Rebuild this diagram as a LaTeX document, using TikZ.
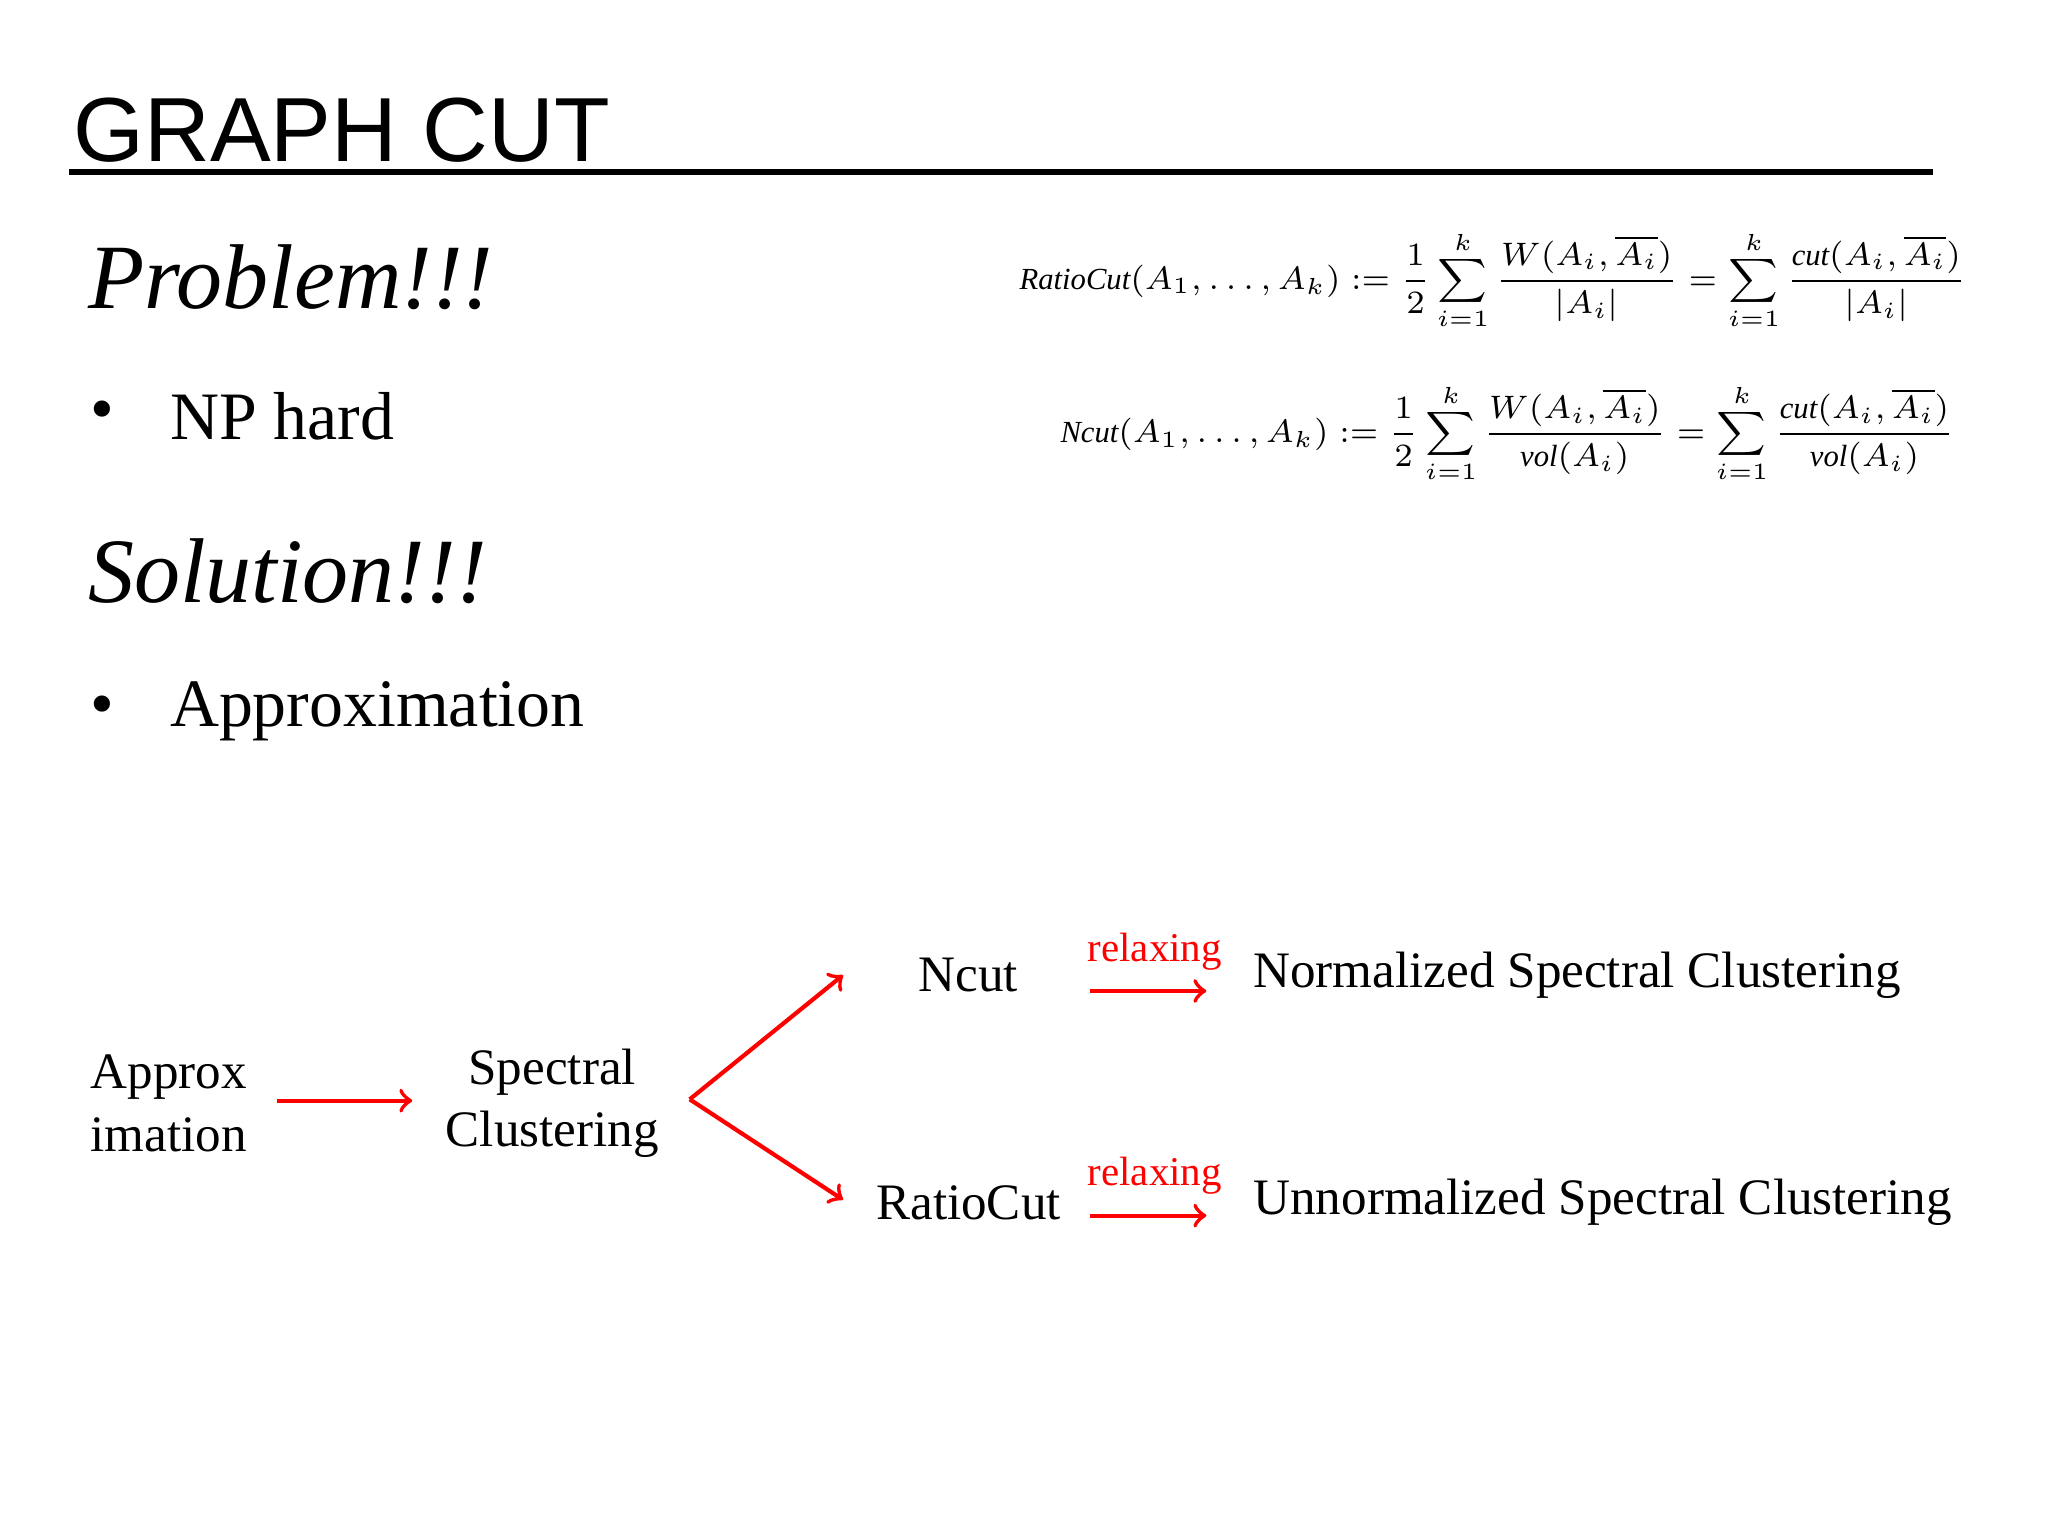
\documentclass[tikz,border=0pt]{standalone}
\usepackage{amsmath}
\usepackage{fontspec}
\setmainfont{Liberation Serif}
\newfontfamily\titlefont{Liberation Sans}
\usetikzlibrary{positioning}
\tikzset{
  txt/.style={inner sep=0pt, font=\fontsize{11}{13.5}\selectfont},
  head/.style={inner sep=0pt, anchor=west, font=\fontsize{19.8}{23}\selectfont\itshape},
  item/.style={inner sep=0pt, anchor=west, font=\fontsize{14.6}{17}\selectfont},
  redarrow/.style={->, red, line width=0.9pt},
  relax/.style={inner sep=0pt, red, font=\fontsize{8.8}{10}\selectfont},
  formula/.style={inner sep=0pt, font=\fontsize{6.6}{8}\selectfont}
}
\begin{document}
\begin{tikzpicture}[x=0.01cm, y=-0.01cm]
    \useasboundingbox (0,0) rectangle (1550,1163);
    % title
    \node[anchor=base west, inner sep=0pt, font=\fontsize{19.6}{23}\selectfont\titlefont] (title) at (55,122) {GRAPH CUT};
    \coordinate (lineL) at (52,130);
    \coordinate (lineR) at (1463,130);
    \draw[line width=1.2pt] (lineL) -- (lineR);
    % left column
    \node[head] (problem) at (66,210) {Problem!!!};
    \node[item] (bulletOne) at (68,315) {\textbullet};
    \node[item] (nphard) at (128,315) {NP hard};
    \node[head] (solution) at (66,432) {Solution!!!};
    \node[item] (bulletTwo) at (68,538) {\textbullet};
    \node[item] (approximation) at (128,538) {Approximation};
    % formulas
    \node[formula] (ratiocut) at (1130,212) {$\mathit{RatioCut}(A_1,\dots,A_k) \mathrel{:=} \dfrac{1}{2}\displaystyle\sum_{i=1}^{k}\dfrac{W(A_i,\overline{A_i})}{|A_i|} = \sum_{i=1}^{k}\dfrac{\mathit{cut}(A_i,\overline{A_i})}{|A_i|}$};
    \node[formula] (ncut) at (1141,328) {$\mathit{Ncut}(A_1,\dots,A_k) \mathrel{:=} \dfrac{1}{2}\displaystyle\sum_{i=1}^{k}\dfrac{W(A_i,\overline{A_i})}{\mathit{vol}(A_i)} = \sum_{i=1}^{k}\dfrac{\mathit{cut}(A_i,\overline{A_i})}{\mathit{vol}(A_i)}$};
    % flow
    \node[txt, align=left, anchor=west] (approx) at (68,835) {Approx\\imation};
    \node[txt, align=center] (spectral) at (418,835) {Spectral\\Clustering};
    \coordinate (split) at (522,832);
    \node[txt] (ncutTxt) at (733,738) {Ncut};
    \node[txt] (ratioTxt) at (733,910) {RatioCut};
    \node[txt, anchor=west] (normalized) at (948,738) {Normalized Spectral Clustering};
    \node[txt, anchor=west] (unnormalized) at (948,910) {Unnormalized Spectral Clustering};
    \coordinate (aOne) at (638,738);
    \coordinate (aTwo) at (638,908);
    \coordinate (approxR) at (210,833);
    \coordinate (specL) at (312,833);
    \draw[redarrow] (approxR) -- (specL);
    \draw[redarrow] (split) -- (aOne);
    \draw[redarrow] (split) -- (aTwo);
    \coordinate (rOneS) at (825,750);
    \coordinate (rOneE) at (913,750);
    \coordinate (rTwoS) at (825,920);
    \coordinate (rTwoE) at (913,920);
    \draw[redarrow] (rOneS) -- (rOneE);
    \draw[redarrow] (rTwoS) -- (rTwoE);
    \node[relax] (relaxOne) at (874,720) {relaxing};
    \node[relax] (relaxTwo) at (874,890) {relaxing};
\end{tikzpicture}
\end{document}
